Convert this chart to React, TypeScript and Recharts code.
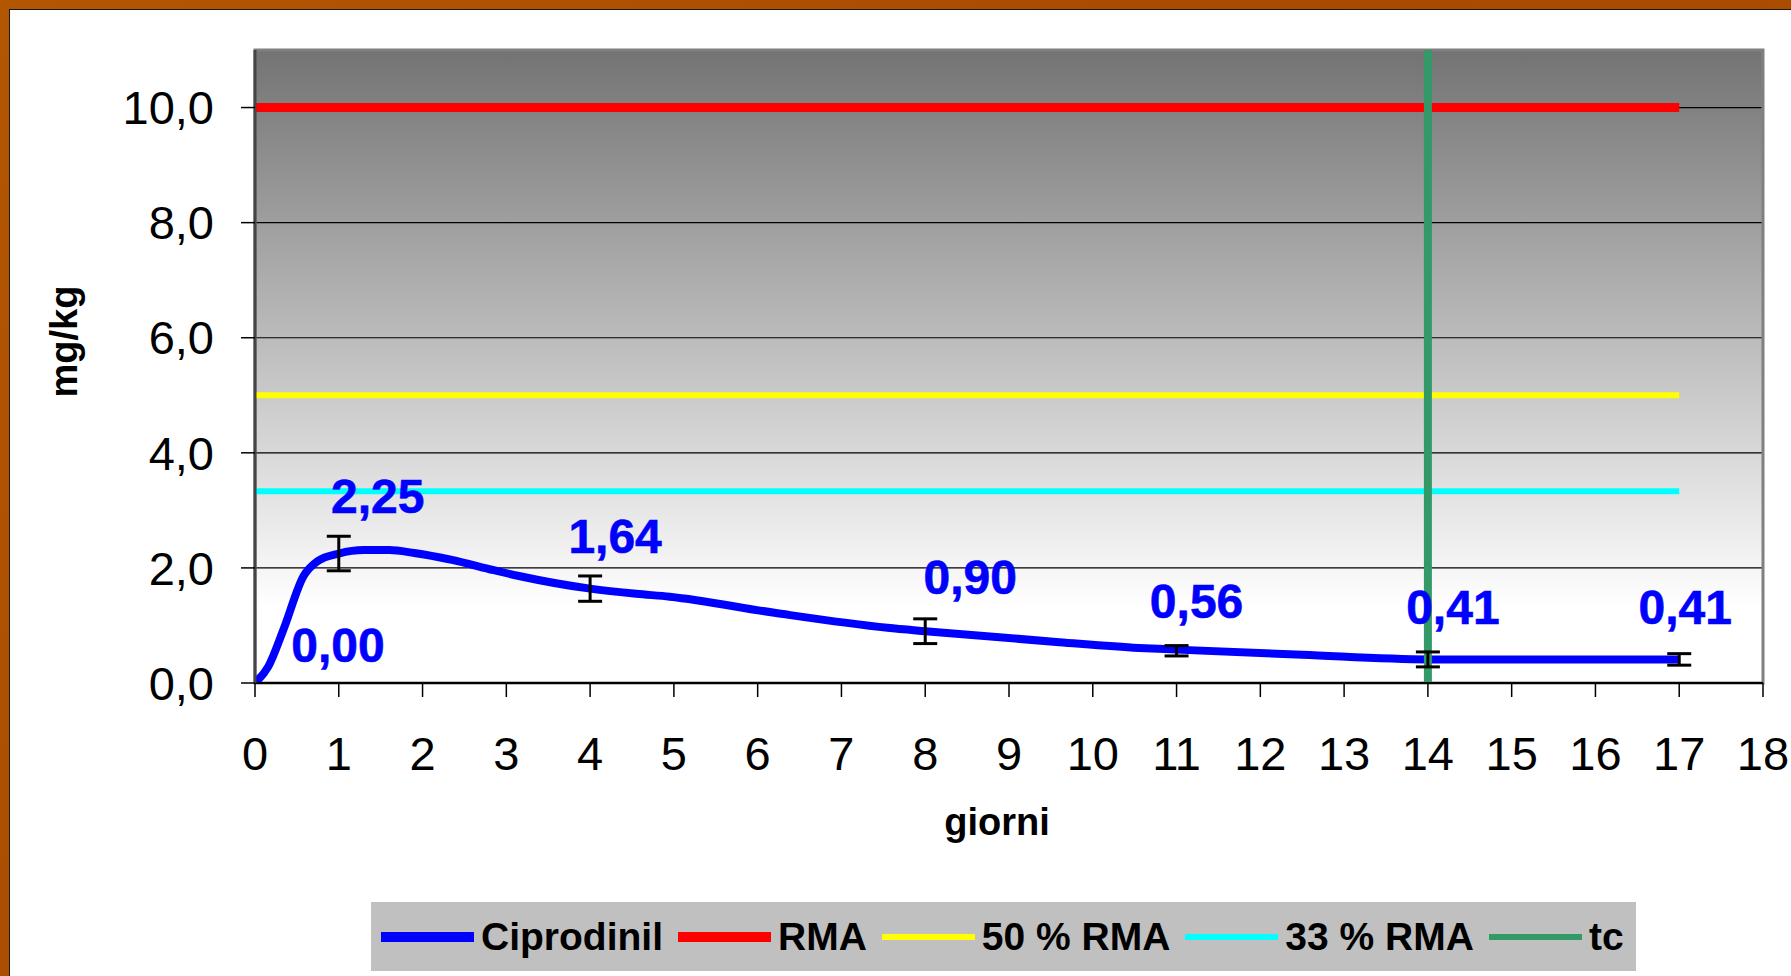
import {
  LineChart,
  Line,
  XAxis,
  YAxis,
  CartesianGrid,
  ReferenceLine,
  ReferenceArea,
  ErrorBar,
  LabelList,
  Label,
} from 'recharts'

// measured residues (mg/kg) per sampling day
const sampleDays = [0, 1, 4, 8, 11, 14, 17]
const residues = [0.0, 2.25, 1.64, 0.9, 0.56, 0.41, 0.41]
const residueErr = [0, 0.3, 0.22, 0.215, 0.09, 0.13, 0.1]

// smoothed decay curve as drawn in the original
const curveDays = [0, 0.16, 0.34, 0.58, 0.75, 1, 1.3, 1.6, 1.9, 2.35, 2.85, 3.15, 4, 4.55, 4.95, 6.2, 7.55, 8, 9.6, 10.55, 11, 12.5, 14, 17]
const curveValues = [0, 0.29, 0.93, 1.86, 2.12, 2.25, 2.31, 2.31, 2.26, 2.14, 1.96, 1.86, 1.64, 1.55, 1.5, 1.22, 0.96, 0.9, 0.71, 0.61, 0.58, 0.49, 0.41, 0.41]

// limits
const RMA = 10
const RMA_50 = 5
const RMA_33 = 3.33
const TC_DAY = 14
const limitSpan = [0, 17]

const xTicks = [0, 1, 2, 3, 4, 5, 6, 7, 8, 9, 10, 11, 12, 13, 14, 15, 16, 17, 18]
const yTicks = [0, 2, 4, 6, 8, 10]

const FONT = '"Liberation Sans", Arial, Helvetica, sans-serif'

const curveData = curveDays.map((x, i) => ({ x, y: curveValues[i] }))
const sampleData = sampleDays.map((x, i) => ({ x, y: residues[i], err: residueErr[i] }))
const flat = (v: number) => limitSpan.map(x => ({ x, y: v }))

// where each value label sits relative to its point (as placed in the original)
const labelShift = [[83, -38], [39, -57], [25, -52], [45, -54], [20, -49], [25, -52], [6, -52]]

const fmt = (v: number, d: number) => v.toFixed(d).replace('.', ',')

const legendItems = [
  { name: 'Ciprodinil', color: '#0000ff', thick: 10 },
  { name: 'RMA', color: '#ff0000', thick: 10 },
  { name: '50 % RMA', color: '#ffff00', thick: 6 },
  { name: '33 % RMA', color: '#00ffff', thick: 6 },
  { name: 'tc', color: '#339966', thick: 6 },
]

const ValueLabel = (props: any) => {
  const { x, y, value, index } = props
  const [dx, dy] = labelShift[index] || [0, -50]
  return (
    <text
      x={x + dx}
      y={y + dy}
      textAnchor="middle"
      dominantBaseline="central"
      fill="#0000ff"
      stroke="#0000ff"
      strokeWidth={0.6}
      fontSize={48}
      fontWeight="bold"
      fontFamily={FONT}
    >
      {fmt(Number(value), 2)}
    </text>
  )
}

export default function App() {
  return (
    <div
      style={{
        position: 'absolute',
        left: 0,
        top: 0,
        width: 1791,
        height: 976,
        overflow: 'hidden',
        background: 'linear-gradient(135deg, #b35602 0%, #a84a00 50%, #b05300 100%)',
        fontFamily: FONT,
      }}
    >
      <div
        style={{
          position: 'absolute',
          left: 9,
          top: 9,
          right: 0,
          bottom: 0,
          background: '#fff',
          borderTop: '1px solid #1a1a1a',
          borderLeft: '1px solid #1a1a1a',
        }}
      />
      <div style={{ position: 'absolute', left: 0, top: 0 }}>
        <LineChart width={1791} height={976} margin={{ top: 50, right: 28, bottom: 0, left: 0 }}>
          <defs>
            <linearGradient id="plotBg" x1="0" y1="0" x2="0" y2="1">
              <stop offset="0%" stopColor="#737373" />
              <stop offset="88%" stopColor="#ffffff" />
              <stop offset="100%" stopColor="#ffffff" />
            </linearGradient>
          </defs>
          <CartesianGrid vertical={false} stroke="#000" strokeWidth={1.2} fill="url(#plotBg)" fillOpacity={1} />
          <XAxis
            type="number"
            dataKey="x"
            domain={[0, 18]}
            ticks={xTicks}
            interval={0}
            allowDataOverflow
            height={293}
            tickSize={14}
            tickMargin={40}
            axisLine={{ stroke: '#000', strokeWidth: 2 }}
            tickLine={{ stroke: '#000', strokeWidth: 1.5 }}
            tick={{ fontSize: 47, fill: '#000', fontFamily: FONT }}
          >
            <Label
              content={({ viewBox }: any) => (
                <text
                  x={viewBox.x + viewBox.width / 2 - 12}
                  y={viewBox.y + 139}
                  textAnchor="middle"
                  dominantBaseline="central"
                  fontSize={38}
                  fontWeight="bold"
                  fontFamily={FONT}
                  fill="#000"
                >
                  giorni
                </text>
              )}
            />
          </XAxis>
          <YAxis
            type="number"
            dataKey="y"
            domain={[0, 11]}
            ticks={yTicks}
            allowDataOverflow
            width={255}
            tickSize={14}
            tickMargin={27}
            tickFormatter={(v: number) => fmt(v, 1)}
            axisLine={{ stroke: '#444', strokeWidth: 3 }}
            tickLine={{ stroke: '#000', strokeWidth: 1.5 }}
            tick={{ fontSize: 47, fill: '#000', fontFamily: FONT }}
          >
            <Label
              content={({ viewBox }: any) => {
                const cx = viewBox.x + 64
                const cy = viewBox.y + viewBox.height / 2 - 25
                return (
                  <text
                    x={cx}
                    y={cy}
                    transform={`rotate(-90 ${cx} ${cy})`}
                    textAnchor="middle"
                    dominantBaseline="central"
                    fontSize={38}
                    fontWeight="bold"
                    fontFamily={FONT}
                    fill="#000"
                  >
                    mg/kg
                  </text>
                )
              }}
            />
          </YAxis>
          <ReferenceArea x1={0} x2={18} y1={0} y2={11} fill="none" stroke="#808080" strokeWidth={3} />
          <Line data={flat(RMA)} dataKey="y" stroke="#ff0000" strokeWidth={9} dot={false} isAnimationActive={false} />
          <Line data={flat(RMA_50)} dataKey="y" stroke="#ffff00" strokeWidth={6} dot={false} isAnimationActive={false} />
          <Line data={flat(RMA_33)} dataKey="y" stroke="#00ffff" strokeWidth={6} dot={false} isAnimationActive={false} />
          <Line
            data={curveData}
            dataKey="y"
            type="monotone"
            stroke="#0000ff"
            strokeWidth={8}
            dot={false}
            isAnimationActive={false}
          />
          <ReferenceLine x={TC_DAY} stroke="#339966" strokeWidth={8} />
          <Line
            data={sampleData}
            dataKey="y"
            stroke="none"
            dot={false}
            activeDot={false}
            isAnimationActive={false}
          >
            <ErrorBar dataKey="err" direction="y" width={12} stroke="#000" strokeWidth={3} isAnimationActive={false} />
            <LabelList dataKey="y" content={ValueLabel} />
          </Line>
        </LineChart>
      </div>
      <div
        style={{
          position: 'absolute',
          left: 371,
          top: 902,
          width: 1265,
          height: 69,
          background: '#c0c0c0',
          display: 'flex',
          alignItems: 'center',
          paddingLeft: 10,
          boxSizing: 'border-box',
          whiteSpace: 'nowrap',
        }}
      >
        {legendItems.map(item => (
          <div key={item.name} style={{ display: 'flex', alignItems: 'center', marginRight: 15, flexShrink: 0 }}>
            <div style={{ width: 93, height: item.thick, background: item.color, marginRight: 7, flexShrink: 0 }} />
            <span style={{ fontSize: 39, fontWeight: 'bold', color: '#000', lineHeight: 1, whiteSpace: 'nowrap' }}>
              {item.name}
            </span>
          </div>
        ))}
      </div>
    </div>
  )
}
